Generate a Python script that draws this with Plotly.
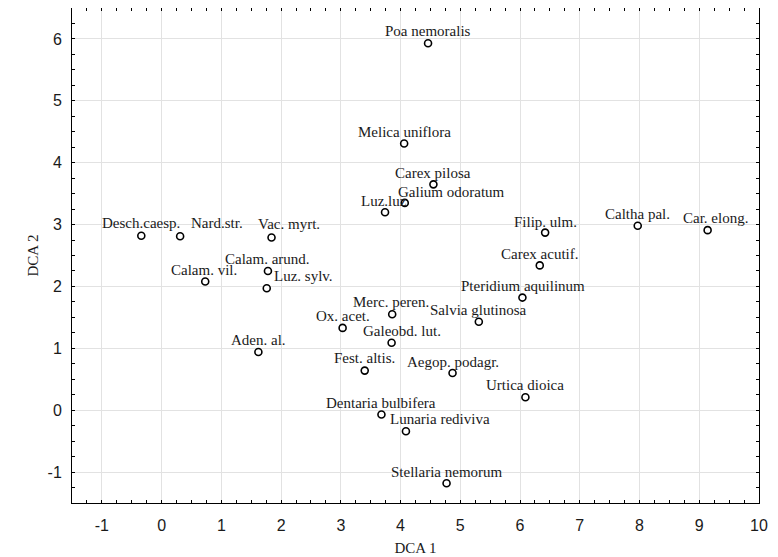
import plotly.graph_objects as go

species = ["Poa nemoralis", "Melica uniflora", "Carex pilosa", "Galium odoratum", "Luz.luz",
           "Desch.caesp.", "Nard.str.", "Vac. myrt.", "Calam. arund.", "Luz. sylv.",
           "Calam. vil.", "Aden. al.", "Merc. peren.", "Ox. acet.", "Galeobd. lut.",
           "Fest. altis.", "Aegop. podagr.", "Urtica dioica", "Dentaria bulbifera",
           "Lunaria rediviva", "Salvia glutinosa", "Pteridium aquilinum", "Carex acutif.",
           "Filip. ulm.", "Caltha pal.", "Car. elong.", "Stellaria nemorum"]
dca1 = [4.46, 4.06, 4.55, 4.07, 3.74,
        -0.34, 0.31, 1.84, 1.78, 1.76,
        0.73, 1.62, 3.86, 3.03, 3.85,
        3.40, 4.87, 6.09, 3.68,
        4.09, 5.31, 6.04, 6.33,
        6.42, 7.97, 9.14, 4.77]
dca2 = [5.93, 4.31, 3.65, 3.35, 3.20,
        2.82, 2.81, 2.79, 2.25, 1.97,
        2.08, 0.94, 1.55, 1.33, 1.09,
        0.64, 0.60, 0.21, -0.07,
        -0.34, 1.43, 1.82, 2.34,
        2.87, 2.98, 2.91, -1.18]

x_tickvals = [-1, 0, 1, 2, 3, 4, 5, 6, 7, 8, 9, 10]
x_ticktext = ["-1", "0", "1", "2", "3", "4", "5", "6", "7", "8", "9", "10"]
y_tickvals = [-1, 0, 1, 2, 3, 4, 5, 6]
y_ticktext = ["-1", "0", "1", "2", "3", "4", "5", "6"]

# label pixel offsets (style, not data)
label_dx = [0, 0, 0, 47, -1,
            0, 37, 17, 0, 37,
            -1, 0, -1, 0, 10,
            0, 0, 0, 0,
            34, 0, 1, 0,
            0, 0, 8, 0]
label_dy = [12, 12, 11.5, 11, 11.5,
            12.5, 13, 14, 12, 12,
            11, 12, 12.5, 11.5, 12,
            12.5, 11, 12.5, 12,
            12, 11.5, 11.5, 11.5,
            10.5, 11.5, 12, 11.5]

fig = go.Figure()
fig.add_trace(go.Scatter(
    x=dca1, y=dca2, mode="markers",
    marker=dict(symbol="circle", size=7, color="white",
                line=dict(color="black", width=1.6)),
    hoverinfo="text", text=species, showlegend=False))

for name, x, y, dx, dy in zip(species, dca1, dca2, label_dx, label_dy):
    fig.add_annotation(x=x, y=y, text=name, showarrow=False,
                       xanchor="center", yanchor="middle",
                       xshift=dx, yshift=dy,
                       font=dict(family="Liberation Serif", size=15, color="#1a1a1a"))

axis_common = dict(
    showline=True, linecolor="black", linewidth=1, mirror="allticks",
    ticks="inside", ticklen=3, tickcolor="black", tickwidth=1,
    showgrid=True, gridcolor="#e2e2e2", gridwidth=1, zeroline=False,
    tickfont=dict(family="Liberation Sans", size=16, color="#1a1a1a"),
    minor=dict(ticks="inside", ticklen=3, tickcolor="black", dtick=0.25, tick0=0,
               showgrid=False),
)

fig.update_layout(
    width=778, height=557,
    margin=dict(l=64, r=27, t=0, b=62),
    paper_bgcolor="white", plot_bgcolor="white",
    xaxis=dict(range=[-1.5, 10], tickmode="array", tickvals=x_tickvals, ticktext=x_ticktext,
               ticklabelstandoff=8,
               title=dict(text="DCA 1", standoff=9,
                          font=dict(family="Liberation Serif", size=15, color="#1a1a1a")),
               **axis_common),
    yaxis=dict(range=[-1.5, 6.5], tickmode="array", tickvals=y_tickvals, ticktext=y_ticktext,
               ticklabelstandoff=6,
               title=dict(text="DCA 2", standoff=5,
                          font=dict(family="Liberation Serif", size=15, color="#1a1a1a")),
               **axis_common),
)

fig.write_html("out.html")
